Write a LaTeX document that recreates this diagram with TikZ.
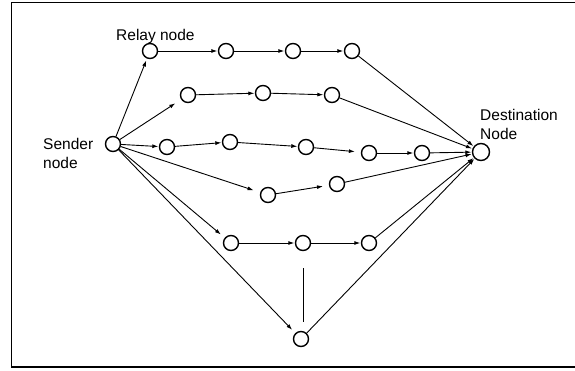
\documentclass[tikz,border=0pt]{standalone}
\usepackage{fontspec}
\setmainfont{Liberation Sans}
\usetikzlibrary{arrows.meta}
\begin{document}
\begin{tikzpicture}[x=1pt,y=-1pt,
  relay/.style={circle,draw,line width=1.4pt,fill=white,minimum size=15pt,inner sep=0pt},
  dest/.style={circle,draw,line width=1.4pt,fill=white,minimum size=17pt,inner sep=0pt},
  link/.style={line width=0.9pt,-{Latex[length=6pt,width=4pt]},shorten >=0.5pt},
  plain/.style={line width=0.9pt},
  lbl/.style={font=\fontsize{15.5}{19.5}\selectfont,inner sep=0pt,align=left}]
\clip (0,0) rectangle (575,371);
\useasboundingbox (0,0) rectangle (575,371);
% frame, open towards the right
\draw[line width=1.2pt] (600,2.5) -- (11.5,2.5) -- (11.5,367) -- (600,367);

% nodes
\node[relay] (s)   at (113,144) {};
\node[dest]  (d)   at (481,152) {};
\node[relay] (a1)  at (150,51) {};
\node[relay] (a2)  at (226,51) {};
\node[relay] (a3)  at (293,51) {};
\node[relay] (a4)  at (352,51) {};
\node[relay] (b1)  at (188,95) {};
\node[relay] (b2)  at (263,93) {};
\node[relay] (b3)  at (332,95) {};
\node[relay] (c1)  at (167,147) {};
\node[relay] (c2)  at (230,142) {};
\node[relay] (c3)  at (306,147) {};
\node[relay] (c4)  at (369,153) {};
\node[relay] (c5)  at (422,153) {};
\node[relay] (e1)  at (268,195) {};
\node[relay] (e2)  at (337,184) {};
\node[relay] (f1)  at (231,243) {};
\node[relay] (f2)  at (303,243) {};
\node[relay] (f3)  at (369,243) {};
\node[relay] (g)   at (301,339) {};

% labels
\node[lbl,anchor=base west] (relaylbl) at (116,40.5) {Relay node};
\node[lbl,anchor=north west] (senderlbl) at (43,138) {Sender\\node};
\node[lbl,anchor=north west] (destlbl) at (480,109) {Destination\\Node};

% path 1
\draw[link,shorten >=2pt] (s) -- (a1);
\draw[link] (a1) -- (a2);
\draw[link] (a2) -- (a3);
\draw[link] (a3) -- (a4);
\draw[link] (a4) -- (d);
% path 2
\draw[link,shorten >=7pt] (s) -- (b1);
\draw[link] (b1) -- (b2);
\draw[link] (b2) -- (b3);
\draw[link] (b3) -- (d);
% path 3
\draw[link] (s) -- (c1);
\draw[link] (c1) -- (c2);
\draw[link] (c2) -- (c3);
\draw[link,shorten >=6pt] (c3) -- (c4);
\draw[link] (c4) -- (c5);
\draw[link] (c5) -- (d);
% path 4
\draw[link,shorten >=7pt] (s) -- (e1);
\draw[link,shorten >=6pt] (e1) -- (e2);
\draw[link] (e2) -- (d);
% path 5
\draw[link,shorten >=5pt] (s) -- (f1);
\draw[link] (f1) -- (f2);
\draw[link] (f2) -- (f3);
\draw[link] (f3) -- (d);
% path 6
\draw[link,shorten >=4.5pt] (s) -- (g);
\draw[link] (g) -- (d);
\draw[plain,shorten <=17pt,shorten >=17pt] (f2) -- (f2 |- g);
\end{tikzpicture}
\end{document}
